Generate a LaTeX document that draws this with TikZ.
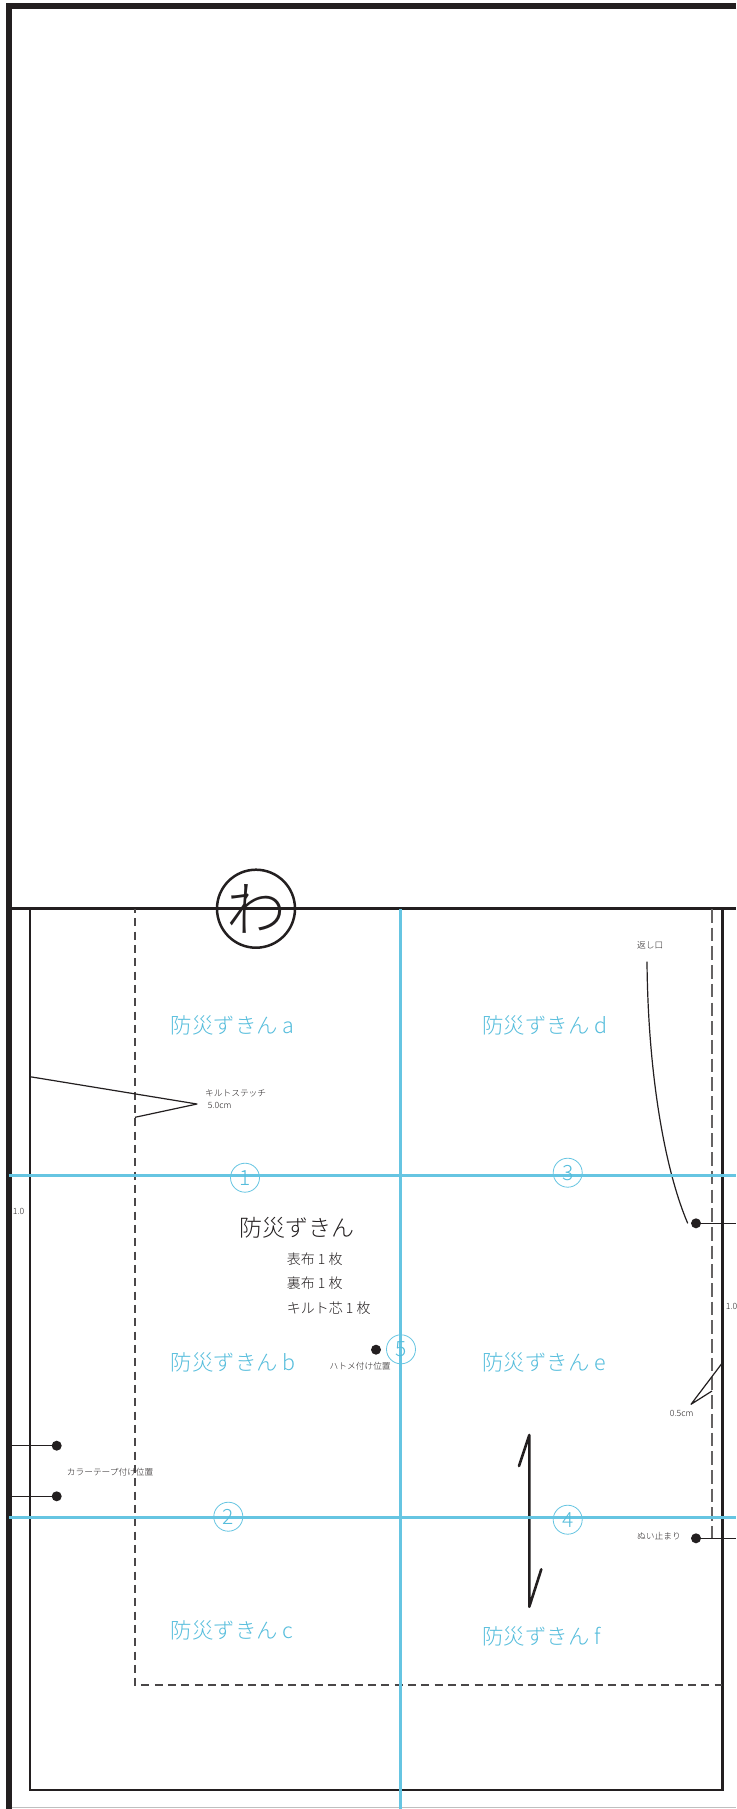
\documentclass[tikz,border=0pt]{standalone}
\usepackage{fontspec}
\setmainfont{Noto Sans CJK JP Light}
\definecolor{ink}{HTML}{231F20}
\definecolor{sky}{HTML}{66C5E2}
\definecolor{skytext}{HTML}{55BDDC}
\definecolor{txt}{HTML}{231F20}
\definecolor{stitchgrey}{HTML}{4A4748}
\begin{document}
\begin{tikzpicture}[x=1pt,y=-1pt,
  frame/.style={draw=ink,line width=5.6pt},
  seam/.style={draw=ink,line width=2.9pt},
  stitch/.style={draw=stitchgrey,line width=1.4pt,dash pattern=on 8pt off 5.33pt},
  stitchwide/.style={draw=stitchgrey!85,line width=1.8pt,dash pattern=on 13.6pt off 5.1pt},
  leader/.style={draw=ink,line width=1.2pt},
  guide/.style={draw=sky,line width=2.8pt},
  pointdot/.style={circle,fill=ink,inner sep=0pt,minimum size=10pt},
  numring/.style={circle,draw=sky,line width=0.8pt,inner sep=0pt,minimum size=29pt,text=skytext,font=\fontsize{21}{21}\selectfont},
  parttext/.style={anchor=west,inner sep=0pt,text=skytext,font=\fontsize{21.4}{24}\selectfont},
  bodytext/.style={anchor=west,inner sep=0pt,text=txt,font=\fontsize{14}{16}\selectfont},
  smalltext/.style={anchor=west,inner sep=0pt,text=txt,font=\fontsize{8.7}{10}\selectfont},
  numtext/.style={anchor=west,inner sep=0pt,text=txt,font=\fontsize{8.6}{10}\selectfont}]
\useasboundingbox (0,0) rectangle (736,1809);
\fill[white] (0,0) rectangle (736,1809);
% sheet frame
\coordinate (tr) at (736,6); \coordinate (tl) at (9,6); \coordinate (bl) at (9,1809);
\draw[frame,line join=miter] (tr) -- (tl) -- (bl);
\draw[draw=black!25,line width=1pt] (11.5,1807.8) -- (736,1807.8);
% fold line and seam rectangle
\coordinate (foldl) at (9,908.7); \coordinate (foldr) at (736,908.7);
\draw[seam] (foldl) -- (foldr);
\draw[seam] (30,908.7) rectangle (722.3,1790);
% stitch line
\coordinate (st1) at (135,909); \coordinate (st2) at (135,1685); \coordinate (st3) at (722,1685);
\coordinate (st4) at (712,909); \coordinate (st5) at (712,1538);
\draw[stitch,dash phase=4pt] (st1) -- (st2) -- (st3);
\draw[stitchwide] (st4) -- (st5);
% leaders
\coordinate (q1) at (30,1076.7); \coordinate (q2) at (197,1104); \coordinate (q3) at (135,1117.3);
\draw[leader,line join=round] (q1) -- (q2) -- (q3);
\coordinate (h1) at (722,1363.3); \coordinate (h2) at (691,1404.3); \coordinate (h3) at (712,1391);
\draw[leader,line join=round] (h1) -- (h2) -- (h3);
% dots
\node[pointdot] (dr1) at (696,1223.3) {};
\node[pointdot] (dr2) at (696,1538.3) {};
\node[pointdot] (dl1) at (56.7,1445.7) {};
\node[pointdot] (dl2) at (56.7,1496.3) {};
\node[pointdot] (dm) at (376,1349.7) {};
\coordinate (er1) at (736,1223.3); \coordinate (er2) at (736,1538.3);
\coordinate (el1) at (11,1445.7); \coordinate (el2) at (11,1496.3);
\draw[leader] (dr1) -- (er1);
\draw[leader] (dr2) -- (er2);
\draw[leader] (dl1) -- (el1);
\draw[leader] (dl2) -- (el2);
\coordinate (c1) at (647,961.7); \coordinate (c2) at (687.7,1223.3);
\draw[leader] (c1) .. controls (648,1075) and (665,1170) .. (c2);
% grain arrow
\coordinate (g1) at (529.3,1435); \coordinate (g2) at (529.3,1606.7);
\coordinate (g3) at (519,1466); \coordinate (g4) at (541.3,1569.3);
\draw[draw=ink,line width=2.6pt,line cap=round,line join=round] (g3) -- (g1) -- (g2) -- (g4);
% guide lines
\coordinate (a1) at (9,1175.7); \coordinate (a2) at (736,1175.7);
\coordinate (b1) at (9,1517.7); \coordinate (b2) at (736,1517.7);
\coordinate (v1) at (400.5,909); \coordinate (v2) at (400.5,1809);
\draw[guide] (a1) -- (a2);
\draw[guide] (b1) -- (b2);
\draw[guide] (v1) -- (v2);
% fold mark
\node[circle,draw=ink,line width=2.5pt,minimum size=78pt,inner sep=0pt,text=ink,font=\fontsize{60}{60}\selectfont] (wa) at (256,908.7) {わ};
% numbers
\node[numring] (n1) at (245,1177.7) {1};
\node[numring] (n2) at (228.3,1516.7) {2};
\node[numring] (n3) at (567.7,1172.7) {3};
\node[numring] (n4) at (567.7,1519.7) {4};
\node[numring] (n5) at (401,1349.3) {5};
% part names
\node[parttext] (ta) at (170.7,1025) {防災ずきん a};
\node[parttext] (tb) at (170.7,1362) {防災ずきん b};
\node[parttext] (tc) at (170.7,1630) {防災ずきん c};
\node[parttext] (td) at (482.3,1025) {防災ずきん d};
\node[parttext] (te) at (482.3,1362) {防災ずきん e};
\node[parttext] (tf) at (482.3,1636) {防災ずきん f};
% title block
\node[bodytext,font=\fontsize{23}{26}\selectfont] (title) at (239.3,1228) {防災ずきん};
\node[bodytext] (l1) at (286.7,1259) {表布 1 枚};
\node[bodytext] (l2) at (286.7,1283) {裏布 1 枚};
\node[bodytext] (l3) at (286.7,1308) {キルト芯 1 枚};
% small notes
\node[smalltext] (s1) at (205,1093.7) {キルトステッチ};
\node[numtext] (s2) at (207.7,1105) {5.0cm};
\node[smalltext] (s3) at (329.3,1366.7) {ハトメ付け位置};
\node[smalltext] (s4) at (66.7,1472.7) {カラーテープ付け位置};
\node[smalltext] (s5) at (637,945) {返し口};
\node[smalltext] (s6) at (637,1535.7) {ぬい止まり};
\node[numtext] (s7) at (669.7,1413.7) {0.5cm};
\node[numtext] (s8) at (12.7,1211.7) {1.0};
\node[numtext] (s9) at (725.7,1306.7) {1.0};
\end{tikzpicture}
\end{document}
